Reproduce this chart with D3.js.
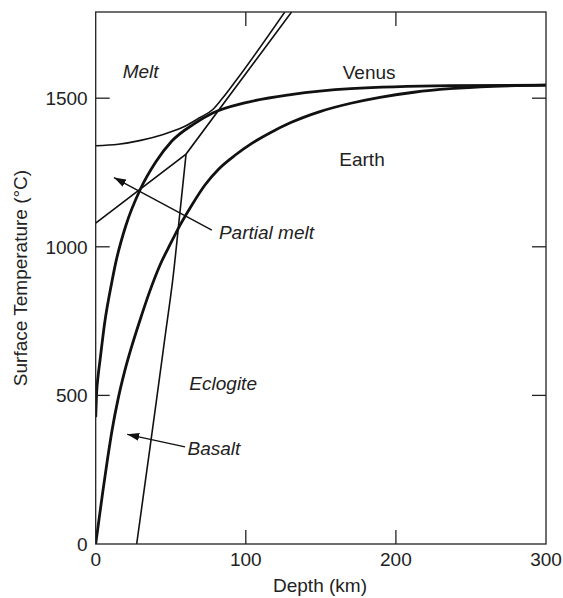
<!DOCTYPE html>
<html lang="en">
<head>
  <meta charset="UTF-8">
  <title>Surface Temperature vs Depth</title>
  <style>
    body {
      margin: 0;
      background: #fff;
    }
    svg {
      display: block;
      font-family: 'Liberation Sans', Arial, Helvetica, sans-serif;
    }
    .frame, .tick-line {
      stroke: #222;
      stroke-width: 1.3;
      fill: none;
    }
    .thin { stroke: #111; stroke-width: 1.6; fill: none; }
    .thick { stroke: #111; stroke-width: 2.8; fill: none; }
    .lbl { font-size: 19px; fill: #222; }
    .it { font-style: italic; }
  </style>
  <script src="https://d3js.org/d3.v7.min.js"></script>
</head>
<body>
  <svg></svg>
  <script>
    const width = 563, height = 598;

    // axis ticks
    const depthTicks = [0, 100, 200, 300];
    const tempTicks = [0, 500, 1000, 1500];

    // curves: [depth km, temperature C]
    const venus = [[0, 427], [0.6, 508], [1.6, 565], [2.9, 619], [6, 745], [10.7, 880], [13.5, 950],
      [20, 1070], [29.5, 1191], [40, 1285], [50.6, 1355], [65, 1412], [78, 1450], [100, 1485],
      [130, 1512], [170, 1532], [236, 1542], [300, 1544]];
    const earth = [[0, 0], [2, 75], [4.9, 182], [8, 290], [10.9, 383], [15, 490], [19.5, 585], [24, 665],
      [29.5, 753], [36, 850], [42.8, 938], [50, 1012], [56.2, 1073], [64, 1140], [72.8, 1208],
      [82, 1262], [92.8, 1308], [104, 1348], [116, 1383], [130, 1418], [149.4, 1455],
      [170, 1483], [189.4, 1503], [212, 1520], [236, 1532], [265, 1540], [300, 1544]];
    const liquidus = [[0, 1340], [15, 1345], [30, 1358], [45, 1378], [58, 1402], [69.5, 1435],
      [78, 1462], [84, 1497], [94, 1563], [126, 1790]];
    const solidus = [[0, 1080], [60.2, 1312], [130.5, 1790]];
    const basaltEclogite = [[27.3, 0], [34, 245], [40.5, 484], [46, 690], [51.3, 888], [56, 1110], [60.2, 1312]];

    const svg = d3.select("svg")
      .attr("width", width)
      .attr("height", height);

    const x = d3.scaleLinear().domain([0, 300]).range([95.7, 546]);
    const y = d3.scaleLinear().domain([0, 1790]).range([544, 12]);

    const defs = svg.append("defs");
    defs.append("clipPath").attr("id", "plot")
      .append("rect")
      .attr("x", x(0)).attr("y", y(1790))
      .attr("width", x(300) - x(0)).attr("height", y(0) - y(1790));
    defs.append("marker")
      .attr("id", "head")
      .attr("viewBox", "0 0 12 8")
      .attr("refX", 12).attr("refY", 4)
      .attr("markerWidth", 12).attr("markerHeight", 8)
      .attr("markerUnits", "userSpaceOnUse")
      .attr("orient", "auto")
      .append("path")
      .attr("d", "M0,0L12,4L0,8Z")
      .attr("fill", "#111");

    const line = d3.line()
      .x(d => x(d[0]))
      .y(d => y(d[1]));

    const curves = svg.append("g").attr("clip-path", "url(#plot)");

    curves.append("path").attr("class", "thin")
      .attr("d", line.curve(d3.curveMonotoneX)(liquidus));
    curves.append("path").attr("class", "thin")
      .attr("d", line.curve(d3.curveLinear)(solidus));
    curves.append("path").attr("class", "thin")
      .attr("d", line.curve(d3.curveCatmullRom)(basaltEclogite));
    curves.append("path").attr("class", "thick")
      .attr("d", line.curve(d3.curveMonotoneX)(venus));
    curves.append("path").attr("class", "thick")
      .attr("d", line.curve(d3.curveMonotoneX)(earth));

    // frame
    svg.append("rect").attr("class", "frame")
      .attr("x", x(0)).attr("y", y(1790))
      .attr("width", x(300) - x(0)).attr("height", y(0) - y(1790));

    // inward ticks on all four sides
    const tl = 14;
    const ticks = svg.append("g");
    depthTicks.filter(d => d > 0 && d < 300).forEach(d => {
      ticks.append("line").attr("class", "tick-line")
        .attr("x1", x(d)).attr("x2", x(d)).attr("y1", y(0)).attr("y2", y(0) - tl);
      ticks.append("line").attr("class", "tick-line")
        .attr("x1", x(d)).attr("x2", x(d)).attr("y1", y(1790)).attr("y2", y(1790) + tl);
    });
    tempTicks.filter(t => t > 0).forEach(t => {
      ticks.append("line").attr("class", "tick-line")
        .attr("x1", x(0)).attr("x2", x(0) + tl).attr("y1", y(t)).attr("y2", y(t));
      ticks.append("line").attr("class", "tick-line")
        .attr("x1", x(300)).attr("x2", x(300) - tl).attr("y1", y(t)).attr("y2", y(t));
    });

    // tick labels
    svg.append("g").selectAll("text")
      .data(depthTicks)
      .join("text")
      .attr("class", "lbl")
      .attr("x", d => x(d))
      .attr("y", 566)
      .attr("text-anchor", "middle")
      .text(d => d);
    svg.append("g").selectAll("text")
      .data(tempTicks)
      .join("text")
      .attr("class", "lbl")
      .attr("x", x(0) - 8)
      .attr("y", d => y(d) + 7)
      .attr("text-anchor", "end")
      .text(d => d);

    // axis titles
    svg.append("text").attr("class", "lbl")
      .attr("x", 320).attr("y", 592)
      .attr("text-anchor", "middle")
      .text("Depth (km)");
    svg.append("text").attr("class", "lbl")
      .attr("transform", `translate(27,${(y(0) + y(1790)) / 2}) rotate(-90)`)
      .attr("text-anchor", "middle")
      .text("Surface Temperature (°C)");

    // region and curve labels
    const labels = [
      { text: "Melt", d: 18, t: 1567, italic: true },
      { text: "Venus", d: 164.6, t: 1563, italic: false },
      { text: "Earth", d: 162.3, t: 1271, italic: false },
      { text: "Partial melt", d: 82.1, t: 1025, italic: true },
      { text: "Eclogite", d: 62.4, t: 518, italic: true },
      { text: "Basalt", d: 61.2, t: 299, italic: true }
    ];
    svg.append("g").selectAll("text")
      .data(labels)
      .join("text")
      .attr("class", d => d.italic ? "lbl it" : "lbl")
      .attr("x", d => x(d.d))
      .attr("y", d => y(d.t))
      .text(d => d.text);

    // arrows from labels
    const arrows = [
      { from: [77.4, 1056], to: [12.2, 1233] },
      { from: [59.5, 327], to: [21, 369] }
    ];
    svg.append("g").selectAll("line")
      .data(arrows)
      .join("line")
      .attr("x1", d => x(d.from[0])).attr("y1", d => y(d.from[1]))
      .attr("x2", d => x(d.to[0])).attr("y2", d => y(d.to[1]))
      .attr("stroke", "#111")
      .attr("stroke-width", 1.4)
      .attr("marker-end", "url(#head)");
  </script>
</body>
</html>
